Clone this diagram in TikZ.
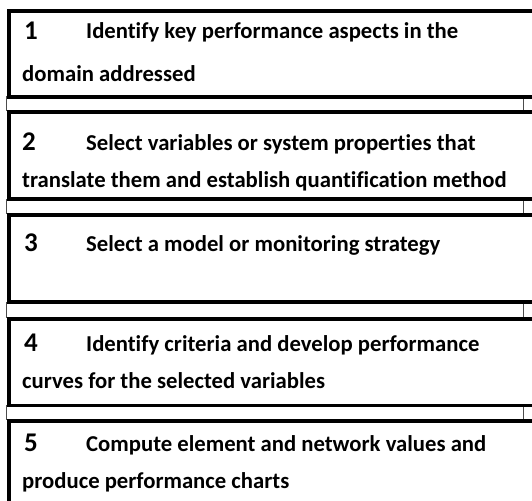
\documentclass[tikz,border=0pt]{standalone}
\usepackage{fontspec}
\setmainfont{Carlito}[Ligatures={NoCommon}]
\begin{document}
\begin{tikzpicture}[x=1pt,y=-1pt,
  boxst/.style={draw=black,line width=3.8pt,fill=white,rectangle,inner sep=0pt,anchor=north west,minimum width=560pt,minimum height=86pt},
  stripst/.style={draw=black!70,line width=0.7pt,fill=white,rectangle,inner sep=0pt,anchor=north west,minimum width=517pt},
  txt/.style={anchor=base west,inner sep=0pt,font=\fontsize{22.7}{26}\selectfont\bfseries},
  num/.style={anchor=base west,inner sep=0pt,font=\fontsize{27}{30}\selectfont\bfseries}]
\useasboundingbox (0,0) rectangle (532,500);
\fill[white] (0,0) rectangle (532,500);
\clip (0,0) rectangle (532,500);
% strips between boxes
\node[stripst,minimum height=14pt] (s1) at (6,96.5) {};
\node[stripst,minimum height=14pt] (s2) at (6,198.5) {};
\node[stripst,minimum height=15pt] (s3) at (6,301.5) {};
\node[stripst,minimum height=14pt] (s4) at (6,405) {};
% boxes
\node[boxst,minimum height=86pt] (b1) at (7,9) {};
\node[boxst,minimum height=86.5pt] (b2) at (7,110.5) {};
\node[boxst,minimum height=87pt] (b3) at (7,213) {};
\node[boxst,minimum height=86.5pt] (b4) at (7,317) {};
\node[boxst,minimum height=120pt] (b5) at (7,419) {};
% texts
\node[num] (n1) at (24,39.5) {1};
\node[txt] (t1a) at (86,39) {Identify key performance aspects in the};
\node[txt] (t1b) at (22,82) {domain addressed};
\node[num] (n2) at (22,150.5) {2};
\node[txt] (t2a) at (86,150.5) {Select variables or system properties that};
\node[txt] (t2b) at (22,187) {translate them and establish quantification method};
\node[num] (n3) at (24,251) {3};
\node[txt] (t3a) at (86,251) {Select a model or monitoring strategy};
\node[num] (n4) at (24,351) {4};
\node[txt] (t4a) at (86,351) {Identify criteria and develop performance};
\node[txt] (t4b) at (22,388) {curves for the selected variables};
\node[num] (n5) at (24,451) {5};
\node[txt] (t5a) at (86,451) {Compute element and network values and};
\node[txt] (t5b) at (22,488) {produce performance charts};
\end{tikzpicture}
\end{document}
